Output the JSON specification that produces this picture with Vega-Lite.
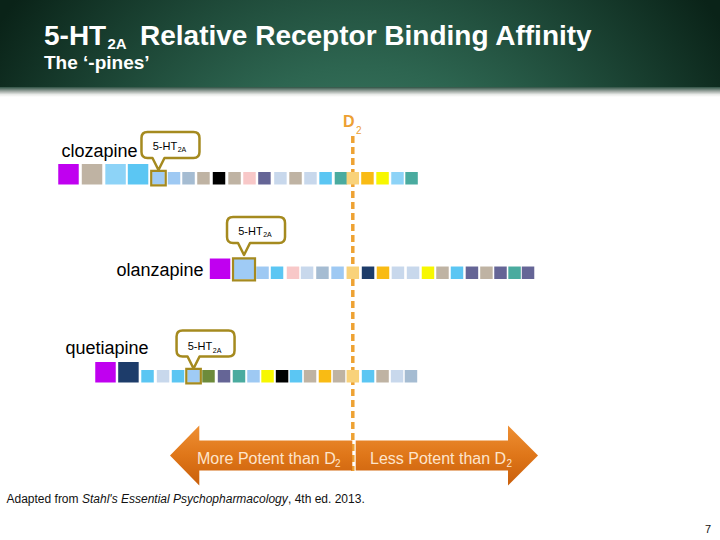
{
  "$schema": "https://vega.github.io/schema/vega-lite/v6.json",
  "width": 720,
  "height": 540,
  "padding": 0,
  "autosize": {"type": "fit", "contains": "padding"},
  "background": "#ffffff",
  "config": {"view": {"stroke": null}, "font": "Liberation Sans"},
  "datasets": {
    "one": [{}],
    "squares": [
      {"drug": "clozapine", "group": "g01", "rel": -19.21, "tier": "strong"},
      {"drug": "clozapine", "group": "g02", "rel": -17.62, "tier": "strong"},
      {"drug": "clozapine", "group": "g03", "rel": -16.03, "tier": "strong"},
      {"drug": "clozapine", "group": "g04", "rel": -14.51, "tier": "strong"},
      {"drug": "clozapine", "group": "5-HT2A", "rel": -13.13, "tier": "moderate"},
      {"drug": "clozapine", "group": "g05", "rel": -12.08, "tier": "moderate"},
      {"drug": "clozapine", "group": "g06", "rel": -11.10, "tier": "moderate"},
      {"drug": "clozapine", "group": "g02", "rel": -10.09, "tier": "moderate"},
      {"drug": "clozapine", "group": "g07", "rel": -9.04, "tier": "moderate"},
      {"drug": "clozapine", "group": "g02", "rel": -7.99, "tier": "moderate"},
      {"drug": "clozapine", "group": "g08", "rel": -6.98, "tier": "moderate"},
      {"drug": "clozapine", "group": "g09", "rel": -5.97, "tier": "moderate"},
      {"drug": "clozapine", "group": "g10", "rel": -4.89, "tier": "moderate"},
      {"drug": "clozapine", "group": "g02", "rel": -3.87, "tier": "moderate"},
      {"drug": "clozapine", "group": "g10", "rel": -2.86, "tier": "moderate"},
      {"drug": "clozapine", "group": "g04", "rel": -1.84, "tier": "moderate"},
      {"drug": "clozapine", "group": "g12", "rel": -0.80, "tier": "moderate"},
      {"drug": "clozapine", "group": "D2", "rel": 0, "tier": "moderate"},
      {"drug": "clozapine", "group": "g13", "rel": 0.99, "tier": "moderate"},
      {"drug": "clozapine", "group": "g14", "rel": 2.01, "tier": "moderate"},
      {"drug": "clozapine", "group": "g03", "rel": 3.02, "tier": "moderate"},
      {"drug": "clozapine", "group": "g12", "rel": 3.97, "tier": "moderate"},
      {"drug": "olanzapine", "group": "g01", "rel": -8.97, "tier": "strong"},
      {"drug": "olanzapine", "group": "5-HT2A", "rel": -7.35, "tier": "strong"},
      {"drug": "olanzapine", "group": "g05", "rel": -6.10, "tier": "moderate"},
      {"drug": "olanzapine", "group": "g04", "rel": -5.12, "tier": "moderate"},
      {"drug": "olanzapine", "group": "g08", "rel": -4.04, "tier": "moderate"},
      {"drug": "olanzapine", "group": "g10", "rel": -3.09, "tier": "moderate"},
      {"drug": "olanzapine", "group": "g06", "rel": -2.05, "tier": "moderate"},
      {"drug": "olanzapine", "group": "g05", "rel": -1.03, "tier": "moderate"},
      {"drug": "olanzapine", "group": "D2", "rel": 0, "tier": "moderate"},
      {"drug": "olanzapine", "group": "g15", "rel": 1.03, "tier": "moderate"},
      {"drug": "olanzapine", "group": "g13", "rel": 2.04, "tier": "moderate"},
      {"drug": "olanzapine", "group": "g10", "rel": 3.05, "tier": "moderate"},
      {"drug": "olanzapine", "group": "g10", "rel": 4.07, "tier": "moderate"},
      {"drug": "olanzapine", "group": "g14", "rel": 5.08, "tier": "moderate"},
      {"drug": "olanzapine", "group": "g02", "rel": 6.06, "tier": "moderate"},
      {"drug": "olanzapine", "group": "g04", "rel": 7.04, "tier": "moderate"},
      {"drug": "olanzapine", "group": "g09", "rel": 8.05, "tier": "moderate"},
      {"drug": "olanzapine", "group": "g02", "rel": 9.03, "tier": "moderate"},
      {"drug": "olanzapine", "group": "g09", "rel": 9.98, "tier": "moderate"},
      {"drug": "olanzapine", "group": "g12", "rel": 10.93, "tier": "moderate"},
      {"drug": "olanzapine", "group": "g09", "rel": 11.84, "tier": "moderate"},
      {"drug": "quetiapine", "group": "g01", "rel": -16.71, "tier": "strong"},
      {"drug": "quetiapine", "group": "g15", "rel": -15.16, "tier": "strong"},
      {"drug": "quetiapine", "group": "g04", "rel": -13.87, "tier": "moderate"},
      {"drug": "quetiapine", "group": "g10", "rel": -12.82, "tier": "moderate"},
      {"drug": "quetiapine", "group": "g04", "rel": -11.81, "tier": "moderate"},
      {"drug": "quetiapine", "group": "5-HT2A", "rel": -10.76, "tier": "moderate"},
      {"drug": "quetiapine", "group": "g16", "rel": -9.75, "tier": "moderate"},
      {"drug": "quetiapine", "group": "g09", "rel": -8.70, "tier": "moderate"},
      {"drug": "quetiapine", "group": "g12", "rel": -7.69, "tier": "moderate"},
      {"drug": "quetiapine", "group": "g05", "rel": -6.71, "tier": "moderate"},
      {"drug": "quetiapine", "group": "g14", "rel": -5.76, "tier": "moderate"},
      {"drug": "quetiapine", "group": "g07", "rel": -4.78, "tier": "moderate"},
      {"drug": "quetiapine", "group": "g04", "rel": -3.84, "tier": "moderate"},
      {"drug": "quetiapine", "group": "g02", "rel": -2.89, "tier": "moderate"},
      {"drug": "quetiapine", "group": "g13", "rel": -1.88, "tier": "moderate"},
      {"drug": "quetiapine", "group": "g02", "rel": -0.93, "tier": "moderate"},
      {"drug": "quetiapine", "group": "D2", "rel": 0, "tier": "moderate"},
      {"drug": "quetiapine", "group": "g04", "rel": 1.03, "tier": "moderate"},
      {"drug": "quetiapine", "group": "g02", "rel": 2.01, "tier": "moderate"},
      {"drug": "quetiapine", "group": "g10", "rel": 2.99, "tier": "moderate"},
      {"drug": "quetiapine", "group": "g06", "rel": 3.93, "tier": "moderate"}
    ]
  },
  "resolve": {"scale": {"x": "independent"}},
  "layer": [
    {
      "data": {"name": "one"},
      "layer": [
        {
          "mark": {"type": "rect", "fill": {"gradient": "radial", "x1": 0.5, "y1": 0.8, "r1": 0, "x2": 0.5, "y2": 0.8, "r2": 0.6, "stops": [{"offset": 0, "color": "#4d8d75"}, {"offset": 0.45, "color": "#2d6550"}, {"offset": 1, "color": "#0a2318"}]}},
          "encoding": {
            "x": {"datum": 0, "type": "quantitative", "scale": {"domain": [0, 720], "nice": false, "zero": false}, "axis": null},
            "x2": {"datum": 720},
            "y": {"datum": 0, "type": "quantitative", "scale": {"domain": [0, 540], "reverse": true, "nice": false, "zero": false}, "axis": null},
            "y2": {"datum": 89}
          }
        },
        {
          "mark": {"type": "rect", "fill": {"gradient": "linear", "x1": 0, "y1": 0, "x2": 0, "y2": 1, "stops": [{"offset": 0, "color": "#2f5244"}, {"offset": 0.45, "color": "#a3aca7"}, {"offset": 0.75, "color": "#e8eae8"}, {"offset": 1, "color": "#ffffff"}]}},
          "encoding": {
            "x": {"datum": 0, "type": "quantitative", "scale": {"domain": [0, 720], "nice": false, "zero": false}, "axis": null},
            "x2": {"datum": 720},
            "y": {"datum": 87, "type": "quantitative", "scale": {"domain": [0, 540], "reverse": true, "nice": false, "zero": false}, "axis": null},
            "y2": {"datum": 97}
          }
        },
        {
          "mark": {"type": "text", "text": "5-HT", "align": "left", "baseline": "alphabetic", "fontSize": 28, "fontWeight": "bold", "color": "#ffffff"},
          "encoding": {
            "x": {"datum": 44, "type": "quantitative", "scale": {"domain": [0, 720], "nice": false, "zero": false}, "axis": null},
            "y": {"datum": 45, "type": "quantitative", "scale": {"domain": [0, 540], "reverse": true, "nice": false, "zero": false}, "axis": null}
          }
        },
        {
          "mark": {"type": "text", "text": "2A", "align": "left", "baseline": "alphabetic", "fontSize": 15, "fontWeight": "bold", "color": "#ffffff"},
          "encoding": {
            "x": {"datum": 107.5, "type": "quantitative", "scale": {"domain": [0, 720], "nice": false, "zero": false}, "axis": null},
            "y": {"datum": 48.5, "type": "quantitative", "scale": {"domain": [0, 540], "reverse": true, "nice": false, "zero": false}, "axis": null}
          }
        },
        {
          "mark": {"type": "text", "text": "Relative Receptor Binding Affinity", "align": "left", "baseline": "alphabetic", "fontSize": 28, "fontWeight": "bold", "color": "#ffffff"},
          "encoding": {
            "x": {"datum": 140, "type": "quantitative", "scale": {"domain": [0, 720], "nice": false, "zero": false}, "axis": null},
            "y": {"datum": 45, "type": "quantitative", "scale": {"domain": [0, 540], "reverse": true, "nice": false, "zero": false}, "axis": null}
          }
        },
        {
          "mark": {"type": "text", "text": "The ‘-pines’", "align": "left", "baseline": "alphabetic", "fontSize": 19, "fontWeight": "bold", "color": "#ffffff"},
          "encoding": {
            "x": {"datum": 44, "type": "quantitative", "scale": {"domain": [0, 720], "nice": false, "zero": false}, "axis": null},
            "y": {"datum": 69, "type": "quantitative", "scale": {"domain": [0, 540], "reverse": true, "nice": false, "zero": false}, "axis": null}
          }
        },
        {
          "mark": {"type": "rule", "color": "#eea233", "strokeWidth": 3.5, "strokeDash": [7, 4]},
          "encoding": {
            "x": {"datum": 352.8, "type": "quantitative", "scale": {"domain": [0, 720], "nice": false, "zero": false}, "axis": null},
            "y": {"datum": 136, "type": "quantitative", "scale": {"domain": [0, 540], "reverse": true, "nice": false, "zero": false}, "axis": null},
            "y2": {"datum": 471}
          }
        },
        {
          "mark": {"type": "text", "text": "D", "align": "left", "baseline": "alphabetic", "fontSize": 16, "fontWeight": "bold", "color": "#eda032"},
          "encoding": {
            "x": {"datum": 343, "type": "quantitative", "scale": {"domain": [0, 720], "nice": false, "zero": false}, "axis": null},
            "y": {"datum": 127, "type": "quantitative", "scale": {"domain": [0, 540], "reverse": true, "nice": false, "zero": false}, "axis": null}
          }
        },
        {
          "mark": {"type": "text", "text": "2", "align": "left", "baseline": "alphabetic", "fontSize": 10, "color": "#eda032"},
          "encoding": {
            "x": {"datum": 356, "type": "quantitative", "scale": {"domain": [0, 720], "nice": false, "zero": false}, "axis": null},
            "y": {"datum": 133.5, "type": "quantitative", "scale": {"domain": [0, 540], "reverse": true, "nice": false, "zero": false}, "axis": null}
          }
        },
        {
          "mark": {"type": "point", "shape": "M-184,0L-154.7,-30L-154.7,-15L-1.7,-15L-1.7,15L-154.7,15L-154.7,30Z", "size": 4, "filled": true, "opacity": 1, "strokeWidth": 0, "fill": {"gradient": "linear", "x1": 0, "y1": 0, "x2": 0, "y2": 1, "stops": [{"offset": 0, "color": "#ee8f33"}, {"offset": 0.5, "color": "#df7619"}, {"offset": 1, "color": "#c95f0b"}]}},
          "encoding": {
            "x": {"datum": 354, "type": "quantitative", "scale": {"domain": [0, 720], "nice": false, "zero": false}, "axis": null},
            "y": {"datum": 455.5, "type": "quantitative", "scale": {"domain": [0, 540], "reverse": true, "nice": false, "zero": false}, "axis": null}
          }
        },
        {
          "mark": {"type": "point", "shape": "M184,0L154,-30L154,-15L1.7,-15L1.7,15L154,15L154,30Z", "size": 4, "filled": true, "opacity": 1, "strokeWidth": 0, "fill": {"gradient": "linear", "x1": 0, "y1": 0, "x2": 0, "y2": 1, "stops": [{"offset": 0, "color": "#ee8f33"}, {"offset": 0.5, "color": "#df7619"}, {"offset": 1, "color": "#c95f0b"}]}},
          "encoding": {
            "x": {"datum": 354, "type": "quantitative", "scale": {"domain": [0, 720], "nice": false, "zero": false}, "axis": null},
            "y": {"datum": 455.5, "type": "quantitative", "scale": {"domain": [0, 540], "reverse": true, "nice": false, "zero": false}, "axis": null}
          }
        },
        {
          "mark": {"type": "text", "text": "More Potent than D", "align": "left", "baseline": "alphabetic", "fontSize": 16, "color": "#fde4cc"},
          "encoding": {
            "x": {"datum": 197, "type": "quantitative", "scale": {"domain": [0, 720], "nice": false, "zero": false}, "axis": null},
            "y": {"datum": 463.5, "type": "quantitative", "scale": {"domain": [0, 540], "reverse": true, "nice": false, "zero": false}, "axis": null}
          }
        },
        {
          "mark": {"type": "text", "text": "2", "align": "left", "baseline": "alphabetic", "fontSize": 10, "color": "#fde4cc"},
          "encoding": {
            "x": {"datum": 335, "type": "quantitative", "scale": {"domain": [0, 720], "nice": false, "zero": false}, "axis": null},
            "y": {"datum": 467, "type": "quantitative", "scale": {"domain": [0, 540], "reverse": true, "nice": false, "zero": false}, "axis": null}
          }
        },
        {
          "mark": {"type": "text", "text": "Less Potent than D", "align": "left", "baseline": "alphabetic", "fontSize": 16, "color": "#fde4cc"},
          "encoding": {
            "x": {"datum": 370, "type": "quantitative", "scale": {"domain": [0, 720], "nice": false, "zero": false}, "axis": null},
            "y": {"datum": 463.5, "type": "quantitative", "scale": {"domain": [0, 540], "reverse": true, "nice": false, "zero": false}, "axis": null}
          }
        },
        {
          "mark": {"type": "text", "text": "2", "align": "left", "baseline": "alphabetic", "fontSize": 10, "color": "#fde4cc"},
          "encoding": {
            "x": {"datum": 506.5, "type": "quantitative", "scale": {"domain": [0, 720], "nice": false, "zero": false}, "axis": null},
            "y": {"datum": 467, "type": "quantitative", "scale": {"domain": [0, 540], "reverse": true, "nice": false, "zero": false}, "axis": null}
          }
        },
        {
          "mark": {"type": "text", "text": "clozapine", "align": "left", "baseline": "alphabetic", "fontSize": 18, "color": "#000000"},
          "encoding": {
            "x": {"datum": 61.5, "type": "quantitative", "scale": {"domain": [0, 720], "nice": false, "zero": false}, "axis": null},
            "y": {"datum": 156.5, "type": "quantitative", "scale": {"domain": [0, 540], "reverse": true, "nice": false, "zero": false}, "axis": null}
          }
        },
        {
          "mark": {"type": "text", "text": "olanzapine", "align": "left", "baseline": "alphabetic", "fontSize": 18, "color": "#000000"},
          "encoding": {
            "x": {"datum": 116.5, "type": "quantitative", "scale": {"domain": [0, 720], "nice": false, "zero": false}, "axis": null},
            "y": {"datum": 275.7, "type": "quantitative", "scale": {"domain": [0, 540], "reverse": true, "nice": false, "zero": false}, "axis": null}
          }
        },
        {
          "mark": {"type": "text", "text": "quetiapine", "align": "left", "baseline": "alphabetic", "fontSize": 18, "color": "#000000"},
          "encoding": {
            "x": {"datum": 65.5, "type": "quantitative", "scale": {"domain": [0, 720], "nice": false, "zero": false}, "axis": null},
            "y": {"datum": 354.3, "type": "quantitative", "scale": {"domain": [0, 540], "reverse": true, "nice": false, "zero": false}, "axis": null}
          }
        },
        {
          "mark": {"type": "text", "text": "Adapted from ", "align": "left", "baseline": "alphabetic", "fontSize": 12, "color": "#111111"},
          "encoding": {
            "x": {"datum": 6.5, "type": "quantitative", "scale": {"domain": [0, 720], "nice": false, "zero": false}, "axis": null},
            "y": {"datum": 503, "type": "quantitative", "scale": {"domain": [0, 540], "reverse": true, "nice": false, "zero": false}, "axis": null}
          }
        },
        {
          "mark": {"type": "text", "text": "Stahl's Essential Psychopharmacology", "align": "left", "baseline": "alphabetic", "fontSize": 12, "fontStyle": "italic", "color": "#111111"},
          "encoding": {
            "x": {"datum": 82, "type": "quantitative", "scale": {"domain": [0, 720], "nice": false, "zero": false}, "axis": null},
            "y": {"datum": 503, "type": "quantitative", "scale": {"domain": [0, 540], "reverse": true, "nice": false, "zero": false}, "axis": null}
          }
        },
        {
          "mark": {"type": "text", "text": ", 4th ed. 2013.", "align": "left", "baseline": "alphabetic", "fontSize": 12, "color": "#111111"},
          "encoding": {
            "x": {"datum": 288, "type": "quantitative", "scale": {"domain": [0, 720], "nice": false, "zero": false}, "axis": null},
            "y": {"datum": 503, "type": "quantitative", "scale": {"domain": [0, 540], "reverse": true, "nice": false, "zero": false}, "axis": null}
          }
        },
        {
          "mark": {"type": "text", "text": "7", "align": "right", "baseline": "alphabetic", "fontSize": 11, "color": "#111111"},
          "encoding": {
            "x": {"datum": 711, "type": "quantitative", "scale": {"domain": [0, 720], "nice": false, "zero": false}, "axis": null},
            "y": {"datum": 533, "type": "quantitative", "scale": {"domain": [0, 540], "reverse": true, "nice": false, "zero": false}, "axis": null}
          }
        }
      ]
    },
    {
      "data": {"name": "squares"},
      "encoding": {
        "x": {"field": "rel", "type": "quantitative", "scale": {"domain": [-23.838, 24.811], "nice": false, "zero": false}, "axis": null}
      },
      "layer": [
        {
          "transform": [{"filter": "datum.drug === 'clozapine'"}],
          "layer": [
            {
              "mark": {"type": "point", "shape": "M-1,0L1,0L1,-2L-1,-2Z", "filled": true, "opacity": 1, "strokeWidth": 0},
              "encoding": {
                "y": {"datum": 184.5, "type": "quantitative", "scale": {"domain": [0, 540], "reverse": true, "nice": false, "zero": false}, "axis": null},
                "size": {"field": "tier", "type": "ordinal", "scale": {"domain": ["strong", "moderate"], "range": [420, 156]}, "legend": null},
                "color": {"field": "group", "type": "nominal", "legend": null, "scale": {"domain": ["g01", "g02", "g03", "g04", "5-HT2A", "g05", "g06", "g07", "g08", "g09", "g10", "g12", "D2", "g13", "g14", "g15", "g16"], "range": ["#c000f0", "#bfb3a3", "#8dd3f7", "#5bc6f3", "#9fcbf5", "#9ec9f3", "#a5bcd2", "#000000", "#f8c8c8", "#656596", "#c8d8ec", "#4aab9f", "#f9d27a", "#f9bb14", "#f7f700", "#1d3c6a", "#6d8b3b"]}}
              }
            },
            {
              "transform": [{"filter": "datum.group === '5-HT2A'"}],
              "mark": {"type": "point", "shape": "M-1,0.12L1,0.12L1,-1.88L-1,-1.88Z", "filled": false, "opacity": 1, "size": 210, "color": "#a58a1f", "strokeWidth": 2.2},
              "encoding": {
                "y": {"datum": 184.5, "type": "quantitative", "scale": {"domain": [0, 540], "reverse": true, "nice": false, "zero": false}, "axis": null}
              }
            },
            {
              "transform": [{"filter": "datum.group === '5-HT2A'"}],
              "mark": {"type": "point", "shape": "M-6,-12L-11,-12Q-17,-12 -17,-18L-17,-32Q-17,-38 -11,-38L35,-38Q41,-38 41,-32L41,-18Q41,-12 35,-12L6,-12L0,0Z", "size": 4, "filled": true, "opacity": 1, "fill": "#ffffff", "stroke": "#a58a1f", "strokeWidth": 2.5, "strokeJoin": "round"},
              "encoding": {
                "y": {"datum": 170, "type": "quantitative", "scale": {"domain": [0, 540], "reverse": true, "nice": false, "zero": false}, "axis": null}
              }
            },
            {
              "transform": [{"filter": "datum.group === '5-HT2A'"}],
              "mark": {"type": "text", "text": "5-HT", "align": "left", "baseline": "alphabetic", "dx": -5.8, "fontSize": 11, "color": "#000000"},
              "encoding": {
                "y": {"datum": 149.5, "type": "quantitative", "scale": {"domain": [0, 540], "reverse": true, "nice": false, "zero": false}, "axis": null}
              }
            },
            {
              "transform": [{"filter": "datum.group === '5-HT2A'"}],
              "mark": {"type": "text", "text": "2A", "align": "left", "baseline": "alphabetic", "dx": 19.2, "fontSize": 7, "color": "#000000"},
              "encoding": {
                "y": {"datum": 152, "type": "quantitative", "scale": {"domain": [0, 540], "reverse": true, "nice": false, "zero": false}, "axis": null}
              }
            }
          ]
        },
        {
          "transform": [{"filter": "datum.drug === 'olanzapine'"}],
          "layer": [
            {
              "mark": {"type": "point", "shape": "M-1,0L1,0L1,-2L-1,-2Z", "filled": true, "opacity": 1, "strokeWidth": 0},
              "encoding": {
                "y": {"datum": 279, "type": "quantitative", "scale": {"domain": [0, 540], "reverse": true, "nice": false, "zero": false}, "axis": null},
                "size": {"field": "tier", "type": "ordinal", "scale": {"domain": ["strong", "moderate"], "range": [420, 156]}, "legend": null},
                "color": {"field": "group", "type": "nominal", "legend": null, "scale": {"domain": ["g01", "g02", "g03", "g04", "5-HT2A", "g05", "g06", "g07", "g08", "g09", "g10", "g12", "D2", "g13", "g14", "g15", "g16"], "range": ["#c000f0", "#bfb3a3", "#8dd3f7", "#5bc6f3", "#9fcbf5", "#9ec9f3", "#a5bcd2", "#000000", "#f8c8c8", "#656596", "#c8d8ec", "#4aab9f", "#f9d27a", "#f9bb14", "#f7f700", "#1d3c6a", "#6d8b3b"]}}
              }
            },
            {
              "transform": [{"filter": "datum.group === '5-HT2A'"}],
              "mark": {"type": "point", "shape": "M-1,0.12L1,0.12L1,-1.88L-1,-1.88Z", "filled": false, "opacity": 1, "size": 484, "color": "#a58a1f", "strokeWidth": 2.2},
              "encoding": {
                "y": {"datum": 279, "type": "quantitative", "scale": {"domain": [0, 540], "reverse": true, "nice": false, "zero": false}, "axis": null}
              }
            },
            {
              "transform": [{"filter": "datum.group === '5-HT2A'"}],
              "mark": {"type": "point", "shape": "M-6,-12L-11,-12Q-17,-12 -17,-18L-17,-32Q-17,-38 -11,-38L35,-38Q41,-38 41,-32L41,-18Q41,-12 35,-12L6,-12L0,0Z", "size": 4, "filled": true, "opacity": 1, "fill": "#ffffff", "stroke": "#a58a1f", "strokeWidth": 2.5, "strokeJoin": "round"},
              "encoding": {
                "y": {"datum": 255, "type": "quantitative", "scale": {"domain": [0, 540], "reverse": true, "nice": false, "zero": false}, "axis": null}
              }
            },
            {
              "transform": [{"filter": "datum.group === '5-HT2A'"}],
              "mark": {"type": "text", "text": "5-HT", "align": "left", "baseline": "alphabetic", "dx": -5.8, "fontSize": 11, "color": "#000000"},
              "encoding": {
                "y": {"datum": 234.5, "type": "quantitative", "scale": {"domain": [0, 540], "reverse": true, "nice": false, "zero": false}, "axis": null}
              }
            },
            {
              "transform": [{"filter": "datum.group === '5-HT2A'"}],
              "mark": {"type": "text", "text": "2A", "align": "left", "baseline": "alphabetic", "dx": 19.2, "fontSize": 7, "color": "#000000"},
              "encoding": {
                "y": {"datum": 237, "type": "quantitative", "scale": {"domain": [0, 540], "reverse": true, "nice": false, "zero": false}, "axis": null}
              }
            }
          ]
        },
        {
          "transform": [{"filter": "datum.drug === 'quetiapine'"}],
          "layer": [
            {
              "mark": {"type": "point", "shape": "M-1,0L1,0L1,-2L-1,-2Z", "filled": true, "opacity": 1, "strokeWidth": 0},
              "encoding": {
                "y": {"datum": 382.5, "type": "quantitative", "scale": {"domain": [0, 540], "reverse": true, "nice": false, "zero": false}, "axis": null},
                "size": {"field": "tier", "type": "ordinal", "scale": {"domain": ["strong", "moderate"], "range": [420, 156]}, "legend": null},
                "color": {"field": "group", "type": "nominal", "legend": null, "scale": {"domain": ["g01", "g02", "g03", "g04", "5-HT2A", "g05", "g06", "g07", "g08", "g09", "g10", "g12", "D2", "g13", "g14", "g15", "g16"], "range": ["#c000f0", "#bfb3a3", "#8dd3f7", "#5bc6f3", "#9fcbf5", "#9ec9f3", "#a5bcd2", "#000000", "#f8c8c8", "#656596", "#c8d8ec", "#4aab9f", "#f9d27a", "#f9bb14", "#f7f700", "#1d3c6a", "#6d8b3b"]}}
              }
            },
            {
              "transform": [{"filter": "datum.group === '5-HT2A'"}],
              "mark": {"type": "point", "shape": "M-1,0.12L1,0.12L1,-1.88L-1,-1.88Z", "filled": false, "opacity": 1, "size": 210, "color": "#a58a1f", "strokeWidth": 2.2},
              "encoding": {
                "y": {"datum": 382.5, "type": "quantitative", "scale": {"domain": [0, 540], "reverse": true, "nice": false, "zero": false}, "axis": null}
              }
            },
            {
              "transform": [{"filter": "datum.group === '5-HT2A'"}],
              "mark": {"type": "point", "shape": "M-6,-12L-11,-12Q-17,-12 -17,-18L-17,-32Q-17,-38 -11,-38L35,-38Q41,-38 41,-32L41,-18Q41,-12 35,-12L6,-12L0,0Z", "size": 4, "filled": true, "opacity": 1, "fill": "#ffffff", "stroke": "#a58a1f", "strokeWidth": 2.5, "strokeJoin": "round"},
              "encoding": {
                "y": {"datum": 368.5, "type": "quantitative", "scale": {"domain": [0, 540], "reverse": true, "nice": false, "zero": false}, "axis": null}
              }
            },
            {
              "transform": [{"filter": "datum.group === '5-HT2A'"}],
              "mark": {"type": "text", "text": "5-HT", "align": "left", "baseline": "alphabetic", "dx": -5.8, "fontSize": 11, "color": "#000000"},
              "encoding": {
                "y": {"datum": 350, "type": "quantitative", "scale": {"domain": [0, 540], "reverse": true, "nice": false, "zero": false}, "axis": null}
              }
            },
            {
              "transform": [{"filter": "datum.group === '5-HT2A'"}],
              "mark": {"type": "text", "text": "2A", "align": "left", "baseline": "alphabetic", "dx": 19.2, "fontSize": 7, "color": "#000000"},
              "encoding": {
                "y": {"datum": 352.5, "type": "quantitative", "scale": {"domain": [0, 540], "reverse": true, "nice": false, "zero": false}, "axis": null}
              }
            }
          ]
        }
      ]
    }
  ]
}
